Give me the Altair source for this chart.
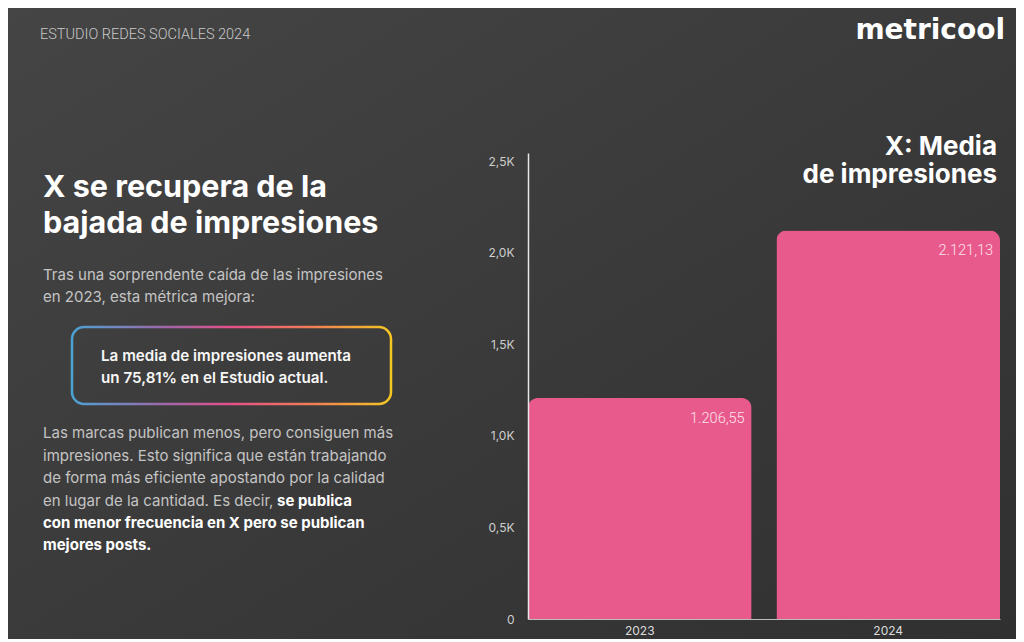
import altair as alt
import pandas as pd

# ---- data ----
years = ["2023", "2024"]
impressions = [1206.55, 2121.13]
value_labels = ["1.206,55", "2.121,13"]
y_ticks = [0, 500, 1000, 1500, 2000, 2500]

header_text = "ESTUDIO REDES SOCIALES 2024"
logo_text = "metricool"
headline_lines = ["X se recupera de la", "bajada de impresiones"]
intro_lines = ["Tras una sorprendente caída de las impresiones", "en 2023, esta métrica mejora:"]
box_lines = ["La media de impresiones aumenta", "un 75,81% en el Estudio actual."]
body_regular = [
    "Las marcas publican menos, pero consiguen más",
    "impresiones. Esto significa que están trabajando",
    "de forma más eficiente apostando por la calidad",
    "en lugar de la cantidad. Es decir, ",
]
body_bold = ["se publica", "con menor frecuencia en X pero se publican", "mejores posts."]
chart_title_lines = ["X: Media", "de impresiones"]

df = pd.DataFrame({"year": years, "value": impressions, "label": value_labels})
dummy = pd.DataFrame({"a": [0]})

OX, OY = 528, 153  # page position of plot origin
PINK = "#E95A8C"


def txt(s, x, y, size, weight, color, font="Inter", align="left"):
    return alt.Chart(dummy).mark_text(
        text=s, align=align, baseline="alphabetic", fontSize=size,
        fontWeight=weight, color=color, font=font
    ).encode(x=alt.value(x - OX), y=alt.value(y - OY))


background = alt.Chart(dummy).mark_rect(
    fill={"gradient": "linear", "x1": 0, "y1": 0, "x2": 1, "y2": 1,
          "stops": [{"offset": 0, "color": "#454545"}, {"offset": 1, "color": "#303030"}]}
).encode(x=alt.value(-OX), x2=alt.value(1024 - OX), y=alt.value(-OY), y2=alt.value(642 - OY))

x_enc = alt.X("year:N", scale=alt.Scale(paddingInner=0.1, paddingOuter=0),
              axis=alt.Axis(title=None, labelAngle=0, labelColor="#dcdcdc", labelFont="Inter",
                            labelFontSize=12, labelPadding=6, ticks=False, zindex=1,
                            domainColor="#bdbdbd", domainWidth=1))
y_enc = alt.Y("value:Q", scale=alt.Scale(domain=[0, 2544], nice=False),
              axis=alt.Axis(title=None, values=y_ticks, grid=False, ticks=False, zindex=1,
                            labelColor="#cfcfcf", labelFont="Inter", labelFontSize=12,
                            labelPadding=14, domainColor="#e6e6e6", domainWidth=1.5,
                            labelExpr="datum.value == 0 ? '0' : replace(format(datum.value / 1000, '.1f'), '.', ',') + 'K'"))

bars = alt.Chart(df).mark_bar(color=PINK, cornerRadiusTopLeft=10, cornerRadiusTopRight=10).encode(
    x=x_enc, y=y_enc
)

labels = alt.Chart(df).mark_text(
    align="right", baseline="alphabetic", dx=-7, dy=25, fontSize=14.5, fontWeight=300,
    font="Roboto", color="#fbe3ec"
).encode(x=alt.X("year:N", bandPosition=1), y="value:Q", text="label:N")

grad_box = alt.Chart(dummy).mark_rect(
    fillOpacity=0, strokeWidth=2.5, cornerRadius=12,
    stroke={"gradient": "linear", "x1": 0, "y1": 0, "x2": 1, "y2": 0,
            "stops": [{"offset": 0, "color": "#4BA3D3"}, {"offset": 0.3, "color": "#A266A8"},
                      {"offset": 0.5, "color": "#E5508A"}, {"offset": 0.75, "color": "#F07D55"},
                      {"offset": 1, "color": "#F6C623"}]}
).encode(x=alt.value(72 - OX), x2=alt.value(391 - OX), y=alt.value(327 - OY), y2=alt.value(404 - OY))

layers = [background, bars, labels, grad_box]
layers.append(txt(header_text, 40, 39, 14.5, 300, "#c8c8c8", font="Roboto"))
layers.append(txt(logo_text, 1005, 39, 28, "bold", "#ffffff", font="DejaVu Sans", align="right"))
for s, yb in zip(headline_lines, [197, 233]):
    layers.append(txt(s, 43, yb, 30.5, "bold", "#ffffff"))
for s, yb in zip(intro_lines, [280, 302]):
    layers.append(txt(s, 43, yb, 15, 400, "#c4c4c4"))
for s, yb in zip(box_lines, [361, 383]):
    layers.append(txt(s, 101, yb, 15.2, 600, "#f7f7f7"))
for s, yb in zip(body_regular, [438, 460.5, 483, 505.5]):
    layers.append(txt(s, 43, yb, 15, 400, "#c4c4c4"))
for s, xb, yb in zip(body_bold, [277, 43, 43], [505.5, 528, 550]):
    layers.append(txt(s, xb, yb, 15, "bold", "#ffffff"))
for s, yb in zip(chart_title_lines, [155, 183]):
    layers.append(txt(s, 997, yb, 26, "bold", "#ffffff", align="right"))

chart = alt.layer(*layers).properties(
    width=472, height=466,
    autosize=alt.AutoSizeParams(type="none"),
    padding={"left": 520, "top": 145, "right": 16, "bottom": 20},
    background="#3b3b3b",
).configure_view(stroke=None)

chart.save("out.html", embed_options={"renderer": "svg", "actions": False})
